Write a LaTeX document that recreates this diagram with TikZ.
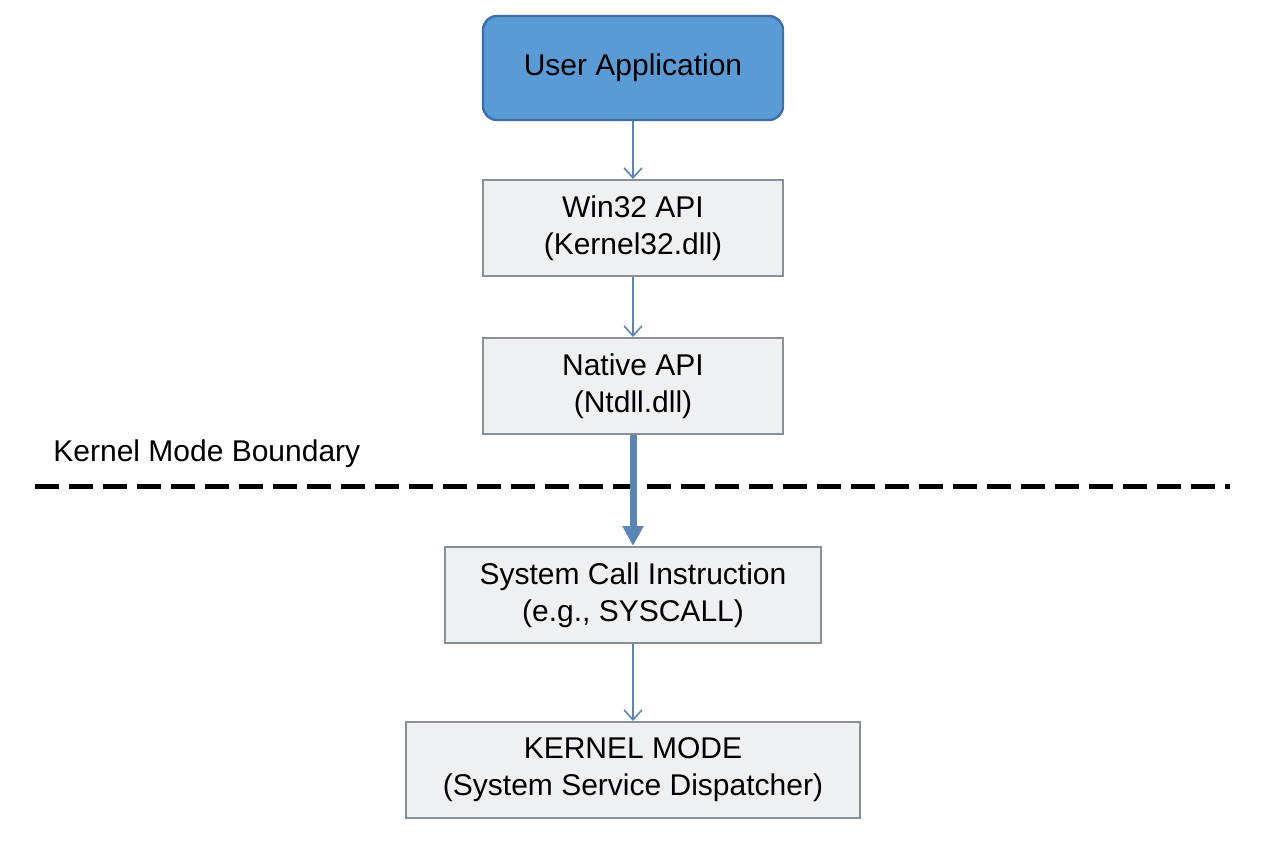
\documentclass[tikz,border=0pt]{standalone}
\usepackage{fontspec}
\setmainfont{Liberation Sans}
\usetikzlibrary{arrows.meta}
\definecolor{boxfill}{HTML}{EEF0F2}
\definecolor{boxline}{HTML}{8A9099}
\definecolor{blueF}{HTML}{5B9BD5}
\definecolor{blueL}{HTML}{3D6FA5}
\definecolor{arr}{HTML}{5A85B5}
\begin{document}
\begin{tikzpicture}[x=0.5pt,y=-0.5pt,
  box/.style={draw=boxline,fill=boxfill,line width=1pt,align=center,font=\fontsize{15}{18.5}\selectfont,inner sep=0pt},
  top/.style={draw=blueL,fill=blueF,line width=1.2pt,rounded corners=7pt,font=\fontsize{15}{18}\selectfont,inner sep=0pt},
  thin/.style={draw=arr,line width=0.8pt,-{Straight Barb[length=5pt,width=9pt]}},
  thick/.style={draw=arr,line width=3.5pt,-{Triangle[length=10pt,width=10pt]}}]
\useasboundingbox (0,0) rectangle (1264,848);
\node[top,minimum width=150pt,minimum height=52pt] (ua) at (633,68) {User Application};
\node[box,minimum width=150pt,minimum height=48pt] (w) at (633,228) {Win32 API\\(Kernel32.dll)};
\node[box,minimum width=150pt,minimum height=48pt] (n) at (633,386) {Native API\\(Ntdll.dll)};
\node[box,minimum width=188pt,minimum height=48pt] (s) at (633,595) {System Call Instruction\\(e.g., SYSCALL)};
\node[box,minimum width=227pt,minimum height=48pt] (k) at (633,770) {KERNEL MODE\\(System Service Dispatcher)};
\node[anchor=west,font=\fontsize{15}{18}\selectfont,inner sep=0pt] (lbl) at (53,454) {Kernel Mode Boundary};
\coordinate (d1) at (35,486); \coordinate (d2) at (1230,486);
\draw[line width=2.5pt,dash pattern=on 12pt off 5pt] (d1) -- (d2);
\draw[thin] (ua) -- (w);
\draw[thin] (w) -- (n);
\draw[thick] (n) -- (s);
\draw[thin] (s) -- (k);
\end{tikzpicture}
\end{document}
